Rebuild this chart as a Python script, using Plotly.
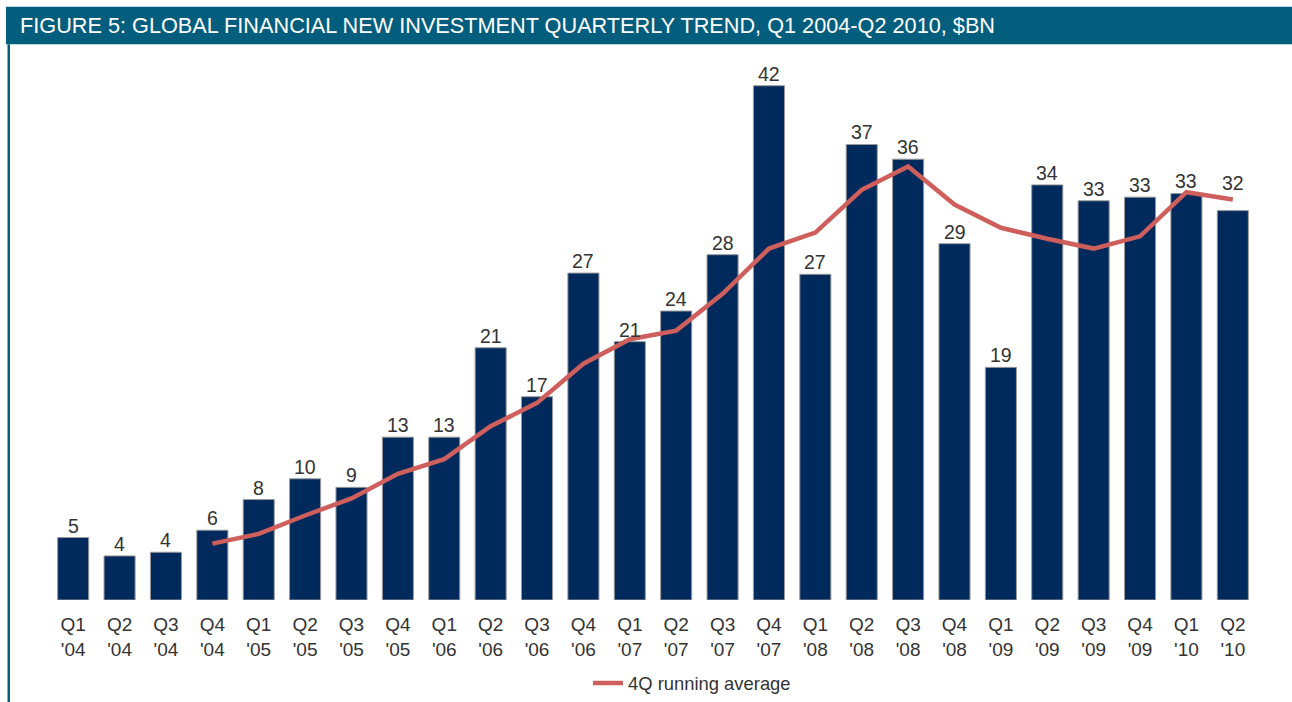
import plotly.graph_objects as go

quarters = ["Q1", "Q2", "Q3", "Q4", "Q1", "Q2", "Q3", "Q4", "Q1", "Q2", "Q3", "Q4",
            "Q1", "Q2", "Q3", "Q4", "Q1", "Q2", "Q3", "Q4", "Q1", "Q2", "Q3", "Q4",
            "Q1", "Q2"]
years = ["'04", "'04", "'04", "'04", "'05", "'05", "'05", "'05", "'06", "'06", "'06", "'06",
         "'07", "'07", "'07", "'07", "'08", "'08", "'08", "'08", "'09", "'09", "'09", "'09",
         "'10", "'10"]
investment = [5.1, 3.6, 3.9, 5.7, 8.2, 9.9, 9.2, 13.3, 13.3, 20.6, 16.6, 26.7,
              21.1, 23.6, 28.2, 42.0, 26.6, 37.2, 36.0, 29.1, 19.0, 33.9, 32.6, 32.9,
              33.2, 31.8]
running_avg = [None, None, None, 4.6, 5.4, 6.9, 8.3, 10.3, 11.5, 14.2, 16.1, 19.3,
               21.3, 22.0, 25.0, 28.7, 30.0, 33.5, 35.4, 32.3, 30.4, 29.5, 28.7, 29.7,
               33.3, 32.7]
title_text = "FIGURE 5: GLOBAL FINANCIAL NEW INVESTMENT QUARTERLY TREND, Q1 2004-Q2 2010, $BN"
legend_name = "4Q running average"

categories = [f"{q}<br>{y}" for q, y in zip(quarters, years)]

W, H = 1292, 702
ML, MR, MT, MB = 50, 36, 70, 102
PW = W - ML - MR
PH = H - MT - MB
TEAL = "#035E7D"
NAVY = "#00295C"
RED = "#CF5F5C"
TXT = "#333333"
FONT = "Liberation Sans, Arial, sans-serif"

def xp(px):
    return (px - ML) / PW

def yp(py):
    return (H - MB - py) / PH

fig = go.Figure()
fig.add_trace(go.Bar(
    x=categories, y=investment,
    marker=dict(color=NAVY, line=dict(color="#9a9a9a", width=1)),
    showlegend=False, hoverinfo="x+y",
))
fig.add_trace(go.Scatter(
    x=categories, y=running_avg, mode="lines", name=legend_name,
    line=dict(color=RED, width=4.5), connectgaps=False,
))

# value labels above the bars (the last one is lifted clear of the average line)
annotations = []
for i, (c, v) in enumerate(zip(categories, investment)):
    lift = 16 if i == len(categories) - 1 else 0
    annotations.append(dict(
        x=c, y=v, xref="x", yref="y", text=f"{v:.0f}", showarrow=False,
        yanchor="bottom", yshift=0 + lift, borderpad=0,
        font=dict(size=19.5, color=TXT, family=FONT),
    ))

fig.update_layout(
    width=W, height=H,
    margin=dict(l=ML, r=MR, t=MT, b=MB, pad=0, autoexpand=False),
    paper_bgcolor="white", plot_bgcolor="white",
    bargap=0.33,
    font=dict(family=FONT, color=TXT, size=19),
    title=dict(text=title_text, xref="container", yref="container",
               x=20 / W, xanchor="left", y=1 - 25.5 / H, yanchor="middle",
               font=dict(family=FONT, size=21.7, color="white")),
    xaxis=dict(showgrid=False, showline=False, ticks="", zeroline=False, automargin=False,
               tickfont=dict(size=19, color=TXT), range=[-0.5, len(categories) - 0.5],
               ticklabelstandoff=11),
    yaxis=dict(visible=False, range=[0, 530 / 12.245], showgrid=False, zeroline=False,
               automargin=False),
    legend=dict(orientation="h", x=xp(588), xanchor="left", y=yp(683), yanchor="middle",
                font=dict(size=18.4, color=TXT), bgcolor="rgba(0,0,0,0)", itemwidth=30),
    annotations=annotations,
    shapes=[
        dict(type="rect", xref="paper", yref="paper", x0=xp(6), x1=xp(W + 2), y0=yp(44.3), y1=yp(6.7),
             fillcolor=TEAL, line=dict(width=0), layer="below"),
        dict(type="rect", xref="paper", yref="paper", x0=xp(7.5), x1=xp(10), y0=yp(H + 2), y1=yp(44.3),
             fillcolor=TEAL, line=dict(width=0), layer="below"),
    ],
)

fig.write_html("out.html", config={"displayModeBar": False},
               post_script="document.body.style.margin='0';document.body.style.overflow='hidden';")
